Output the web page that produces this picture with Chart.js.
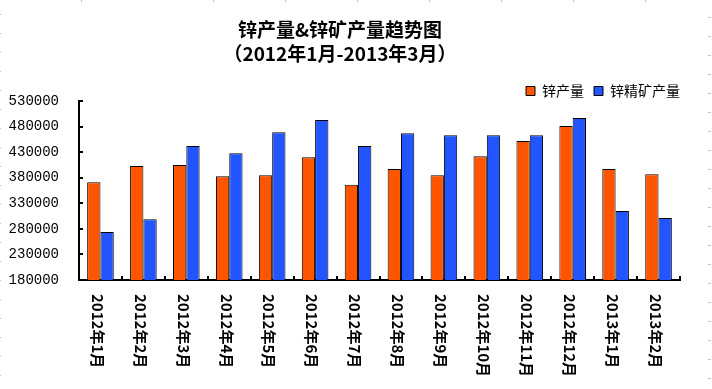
<!doctype html>
<html lang="zh-CN">
  <head>
    <meta charset="utf-8">
    <title>锌产量&锌矿产量趋势图</title>
    <style>
      * {
        margin: 0;
        padding: 0;
      }
      body {
        background: #fff;
      }
      .chartBox {
        width: 712px;
        height: 389px;
      }
    </style>
  </head>
  <body>
    <div class="chartBox">
      <canvas id="myChart" width="712" height="389"></canvas>
    </div>
    <script src="https://cdn.jsdelivr.net/npm/chart.js/dist/chart.umd.min.js"></script>
    <script>
    // data
    const categories = ['2012年1月', '2012年2月', '2012年3月', '2012年4月', '2012年5月', '2012年6月', '2012年7月',
      '2012年8月', '2012年9月', '2012年10月', '2012年11月', '2012年12月', '2013年1月', '2013年2月'];
    const zincOutput = [371000, 403000, 405000, 383000, 385000, 420000, 366000, 397000, 385000, 422000, 452000, 481000, 397000, 387000];
    const zincConcentrate = [274000, 299000, 442000, 428000, 469000, 493000, 442000, 467000, 463000, 463000, 463000, 497000, 315000, 301000];
    const yTicks = [180000, 230000, 280000, 330000, 380000, 430000, 480000, 530000];

    const cjk = '"Noto Sans CJK SC", sans-serif';

    // faint sheet grid marks along the edges
    const sheetMarks = {
      id: 'sheetMarks',
      beforeDraw: (chart) => {
        const { ctx, width, height } = chart;
        ctx.save();
        ctx.fillStyle = '#c0c0c0';
        for (let y = 17; y < height - 5; y += 19) {
          ctx.fillRect(width - 4, y, 3, 1);
          ctx.fillRect(0, y - 3, 1, 1);
        }
        [81, 213, 285, 357, 429, 501, 573, 645].forEach(x => ctx.fillRect(x, 0, 1, 2));
        ctx.restore();
      }
    };

    // push the legend flush with the plot's right edge
    const legendShift = {
      id: 'legendShift',
      afterLayout: (chart) => {
        chart.legend.left += 10;
        chart.legend.right += 10;
      }
    };

    // inner tick marks + rotated category labels (top to bottom)
    const axisDecor = {
      id: 'axisDecor',
      afterDraw: (chart) => {
        const { ctx, chartArea, scales: { x, y } } = chart;
        ctx.save();
        ctx.strokeStyle = '#000';
        ctx.lineWidth = 2;
        ctx.beginPath();
        yTicks.forEach(v => {
          const py = Math.round(y.getPixelForValue(v));
          ctx.moveTo(chartArea.left, py);
          ctx.lineTo(chartArea.left + 4, py);
        });
        const half = (x.getPixelForValue(1) - x.getPixelForValue(0)) / 2;
        for (let i = 0; i <= categories.length; i++) {
          const px = Math.round(x.getPixelForValue(i) - half);
          ctx.moveTo(px, chartArea.bottom);
          ctx.lineTo(px, chartArea.bottom - 4);
        }
        ctx.stroke();

        ctx.fillStyle = '#000';
        ctx.font = 'bold 15px ' + cjk;
        ctx.textAlign = 'left';
        ctx.textBaseline = 'middle';
        categories.forEach((label, i) => {
          ctx.save();
          ctx.translate(x.getPixelForValue(i) - 3, chartArea.bottom + 14);
          ctx.rotate(Math.PI / 2);
          ctx.fillText(label, 0, 0);
          ctx.restore();
        });
        ctx.restore();
      }
    };

    const config = {
      type: 'bar',
      data: {
        labels: categories,
        datasets: [
          {
            label: '锌产量',
            data: zincOutput,
            backgroundColor: '#ff5500',
            borderColor: '#000',
            borderWidth: 1,
          },
          {
            label: '锌精矿产量',
            data: zincConcentrate,
            backgroundColor: '#2255ff',
            borderColor: '#000',
            borderWidth: 1,
          }
        ]
      },
      options: {
        responsive: false,
        animation: false,
        barPercentage: 1,
        categoryPercentage: 0.62,
        layout: {
          padding: { top: 10, right: 32, bottom: 0, left: 0 }
        },
        scales: {
          x: {
            grid: { display: false },
            border: { color: '#000', width: 2 },
            ticks: { display: false },
            afterFit: (scale) => { scale.height = 109; }
          },
          y: {
            min: 180000,
            max: 530000,
            afterBuildTicks: (scale) => {
              scale.ticks = yTicks.map(v => ({ value: v }));
            },
            grid: { display: false },
            border: { color: '#000', width: 2 },
            ticks: {
              padding: 12,
              color: '#000',
              font: { family: '"Liberation Mono", monospace', size: 14 },
              callback: (value) => String(value)
            },
            afterFit: (scale) => { scale.width = 79; }
          }
        },
        plugins: {
          title: {
            display: true,
            text: ['锌产量&锌矿产量趋势图', '（2012年1月-2013年3月）'],
            color: '#000',
            font: { family: cjk, size: 19, weight: 'bold', lineHeight: 1.25 },
            padding: { top: 8.1, bottom: 8.4 }
          },
          legend: {
            position: 'top',
            align: 'end',
            maxHeight: 27,
            labels: {
              color: '#000',
              boxWidth: 9,
              boxHeight: 9,
              padding: 10,
              font: { family: cjk, size: 14 }
            }
          },
          tooltip: { enabled: false }
        }
      },
      plugins: [sheetMarks, legendShift, axisDecor]
    };

    const myChart = new Chart(document.getElementById('myChart'), config);
    </script>
  </body>
</html>
